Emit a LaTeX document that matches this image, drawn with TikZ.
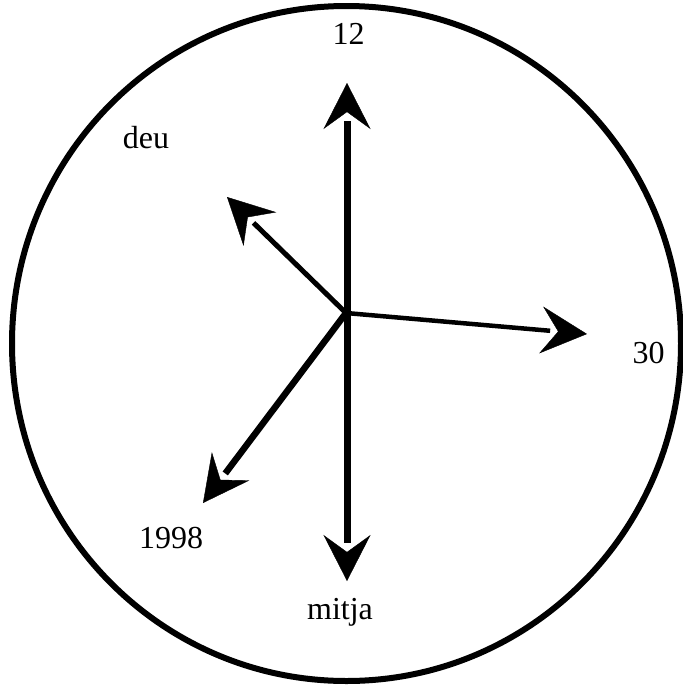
\documentclass[tikz,border=0pt]{standalone}
\usepackage{fontspec}
\setmainfont{Liberation Serif}
\usetikzlibrary{arrows.meta,calc}
\begin{document}
\begin{tikzpicture}[x=1pt,y=-1pt,
  lbl/.style={font=\fontsize{32}{37}\selectfont, inner sep=0pt, anchor=base},
  head/.style={line width=0.4pt, -{Stealth[length=46pt,width=47pt,inset=17pt]}}]
\useasboundingbox (0,0) rectangle (683,686);
\draw[line width=6pt] (346.5,343.5) ellipse [x radius=334.5, y radius=337.5];
\coordinate (O) at (346,313);
\coordinate (tU) at (347,83);
\coordinate (tD) at (347,581);
\coordinate (tUL) at (227,197);
\coordinate (tR) at (587,334);
\coordinate (tLL) at (203,503);
% shafts
\draw[line width=7pt] ($(tU)!38pt!(tD)$) -- ($(tD)!38pt!(tU)$);
\draw[line width=5pt] (O) -- ($(tUL)!37pt!(O)$);
\draw[line width=4.5pt] (O) -- ($(tR)!37pt!(O)$);
\draw[line width=6.5pt] (O) -- ($(tLL)!37pt!(O)$);
% heads
\draw[head] ($(tU)!20pt!(tD)$) -- (tU);
\draw[head] ($(tD)!20pt!(tU)$) -- (tD);
\draw[head] ($(tUL)!20pt!(O)$) -- (tUL);
\draw[head] ($(tR)!20pt!(O)$) -- (tR);
\draw[head] ($(tLL)!20pt!(O)$) -- (tLL);
% labels
\node[lbl] (n12) at (348.5,44) {12};
\node[lbl] (deu) at (146,148) {deu};
\node[lbl] (n30) at (648.5,363) {30};
\node[lbl] (n1998) at (171,548) {1998};
\node[lbl] (mitja) at (340,619) {mitja};
\end{tikzpicture}
\end{document}
